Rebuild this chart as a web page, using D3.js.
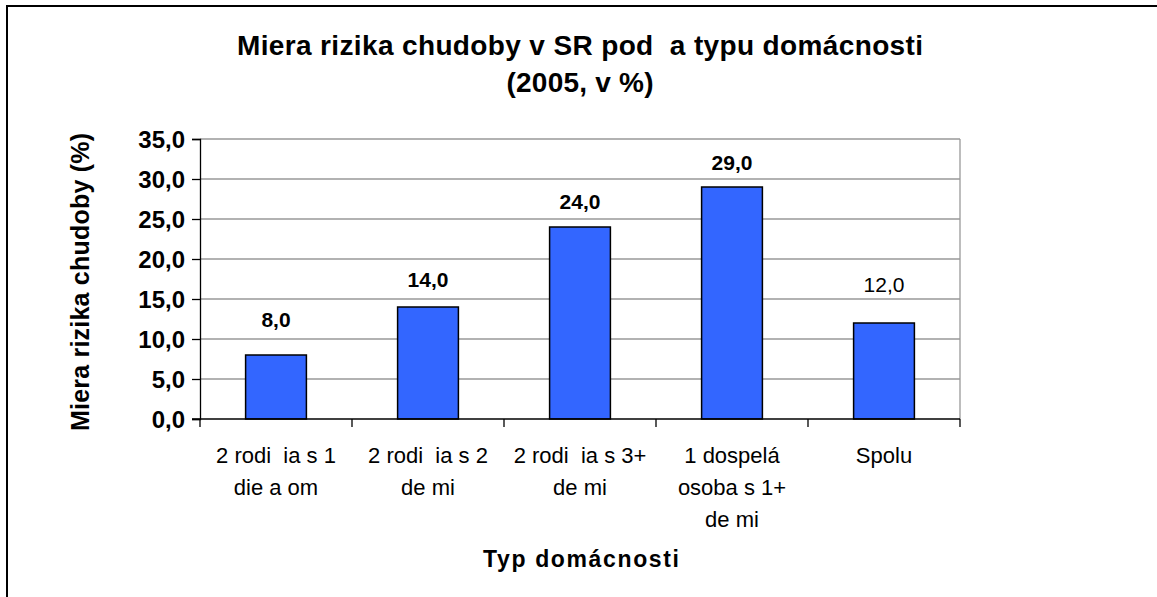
<!DOCTYPE html>
<html><head><meta charset="utf-8">
<script src="https://cdn.jsdelivr.net/npm/d3@7"></script>
<style>body{margin:0;background:#fff}svg{display:block}text{font-family:"Liberation Sans",Arial,sans-serif}</style>
</head><body>
<svg id="c" width="1157" height="597"></svg>
<script>
const categories = [["2 rodi\u00a0\u00a0ia s 1","die\u00a0a\u00a0om"],["2 rodi\u00a0\u00a0ia s 2","de\u00a0mi"],["2 rodi\u00a0\u00a0ia s 3+","de\u00a0mi"],["1 dospelá","osoba s 1+","de\u00a0mi"],["Spolu"]];
const values = [8, 14, 24, 29, 12];
const labelBold = [true, true, true, true, false];
const yTicks = [0,5,10,15,20,25,30,35];
const titleLines = ["Miera rizika chudoby v SR pod\u00a0\u00a0a typu domácnosti","(2005, v %)"];
const yTitle = "Miera rizika chudoby (%)";
const xTitle = "Typ domácnosti";

// layout
const labelGap = [28, 20, 18, 17, 31];
const titleWidths = [686, 147];

const svg = d3.select("#c");
svg.append("rect").attr("x",7).attr("y",6).attr("width",1200).attr("height",700).attr("fill","#fff").attr("stroke","#000").attr("stroke-width",2);

const L=200,R=960,T=139,B=419;
const x = d3.scaleBand().domain(d3.range(values.length)).range([L,R]).paddingInner(0.6).paddingOuter(0.3);
const xc = d3.scaleBand().domain(d3.range(values.length)).range([L,R]);
const y = d3.scaleLinear().domain([0,35]).range([B,T]);

// gridlines
svg.append("g").selectAll("line").data(yTicks.filter(d=>d>0)).join("line")
  .attr("x1",L).attr("x2",R).attr("y1",d=>y(d)).attr("y2",d=>y(d)).attr("stroke","#999").attr("stroke-width",1.3);
svg.append("line").attr("x1",R).attr("x2",R).attr("y1",T).attr("y2",B).attr("stroke","#999").attr("stroke-width",1.3);

// bars
svg.append("g").selectAll("rect").data(values).join("rect")
  .attr("x",(d,i)=>x(i)).attr("width",x.bandwidth()).attr("y",d=>y(d)).attr("height",d=>B-y(d))
  .attr("fill","#3366FF").attr("stroke","#000").attr("stroke-width",1.5);

// y axis
const ya = svg.append("g").attr("transform",`translate(${L},0)`).call(d3.axisLeft(y).tickValues(yTicks).tickSize(8).tickFormat(d=>d3.format(".1f")(d).replace(".",",")));
ya.select(".domain").attr("stroke","#000").attr("stroke-width",1.3);
ya.selectAll(".tick line").attr("stroke","#000").attr("stroke-width",1.3);
ya.selectAll("text").attr("font-size",24).attr("font-weight","bold").attr("fill","#000").attr("x",-15).attr("dy","0.36em").attr("font-family","Liberation Sans, Arial, sans-serif");

// x axis
const xa = svg.append("g").attr("transform",`translate(0,${B})`);
xa.append("line").attr("x1",L-8).attr("x2",R).attr("stroke","#000").attr("stroke-width",1.3);
xa.selectAll("line.t").data(d3.range(values.length+1)).join("line").attr("class","t")
  .attr("x1",i=>L+i*xc.bandwidth()).attr("x2",i=>L+i*xc.bandwidth()).attr("y1",0).attr("y2",8).attr("stroke","#000").attr("stroke-width",1.3);

// category labels
svg.append("g").selectAll("text").data(categories).join("text")
  .attr("x",(d,i)=>xc(i)+xc.bandwidth()/2).attr("y",463).attr("text-anchor","middle").attr("font-size",22)
  .each(function(d){ const t=d3.select(this); d.forEach((s,j)=>t.append("tspan").attr("x",t.attr("x")).attr("dy",j?32:0).text(s)); });

// value labels
svg.append("g").selectAll("text").data(values).join("text")
  .attr("x",(d,i)=>x(i)+x.bandwidth()/2).attr("y",(d,i)=>y(d)-labelGap[i]).attr("text-anchor","middle").attr("font-size",21)
  .attr("font-weight",(d,i)=>labelBold[i]?"bold":"normal").text(d=>d3.format(".1f")(d).replace(".",","));

// titles
svg.append("g").selectAll("text").data(titleLines).join("text")
  .attr("x",580).attr("y",(d,i)=>55+i*37).attr("text-anchor","middle").attr("font-size",28).attr("font-weight","bold")
  .attr("textLength",(d,i)=>titleWidths[i]).attr("lengthAdjust","spacing").text(d=>d);
svg.append("text").attr("transform",`translate(89,${(T+B)/2+3}) rotate(-90)`).attr("text-anchor","middle").attr("font-size",25).attr("font-weight","bold")
  .attr("textLength",298).attr("lengthAdjust","spacing").text(yTitle);
svg.append("text").attr("x",581).attr("y",567).attr("text-anchor","middle").attr("font-size",23).attr("font-weight","bold")
  .attr("textLength",196).attr("lengthAdjust","spacing").text(xTitle);
</script>
</body></html>
